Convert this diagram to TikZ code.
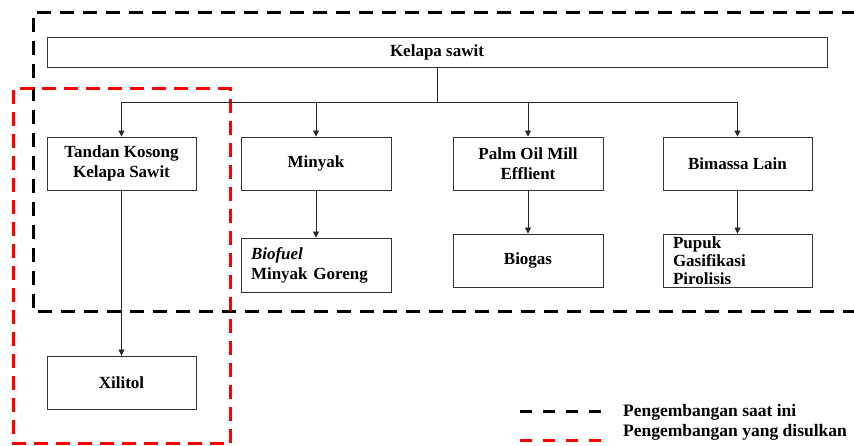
\documentclass[tikz,border=0pt]{standalone}
\usepackage{fontspec}
\setmainfont{Liberation Serif}
\usetikzlibrary{arrows.meta}
\begin{document}
\begin{tikzpicture}[x=1pt,y=-1pt,
  box/.style={draw=black!80,line width=0.9pt,font=\fontsize{17}{20}\selectfont\bfseries,align=center,minimum width=150,minimum height=53,inner sep=0pt},
  lbox/.style={box,align=left,text width=130,inner xsep=10pt},
  conn/.style={line width=0.8pt,black!85},
  arr/.style={conn,-{Triangle[length=6pt,width=6pt]}},
  blackdash/.style={line width=3pt,dash pattern=on 14pt off 9pt},
  reddash/.style={line width=3pt,red,dash pattern=on 14pt off 8pt},
  legtext/.style={font=\fontsize{17.5}{20}\selectfont\bfseries,anchor=west,inner sep=0pt}]
\useasboundingbox (0,0) rectangle (854,446);
% dashed regions
\draw[blackdash] (856,13) -- (33,13) -- (33,312) -- (856,312);
\draw[reddash] (230,443) -- (230,89) -- (13,89) -- (13,443) -- cycle;
% nodes
\node[box,minimum width=780,minimum height=30] (kel) at (437,52) {Kelapa sawit};
\node[box,minimum width=149] (tks) at (121.5,163.5) {Tandan Kosong\\Kelapa Sawit};
\node[box] (min) at (316,163.5) {Minyak};
\node[box] (pom) at (528,163.5) {Palm Oil Mill\\Efflient};
\node[box,minimum width=149] (bim) at (737.5,163.5) {Bimassa Lain};
\node[lbox,minimum height=54] (bio) at (316,265) {\textit{Biofuel}\\Minyak Goreng};
\node[box] (bgs) at (528,260.5) {Biogas};
\node[lbox,minimum width=149,text width=129,font=\fontsize{17}{18}\selectfont\bfseries] (pup) at (737.5,260.5) {Pupuk\\Gasifikasi\\Pirolisis};
\node[box,minimum width=149] (xil) at (121.5,382.5) {Xilitol};
% connectors
\coordinate (bm) at (437,102);
\coordinate (b1) at (121.5,102);
\coordinate (b2) at (316,102);
\coordinate (b3) at (528,102);
\coordinate (b4) at (737.5,102);
\draw[conn] (kel.south -| bm) -- (bm);
\draw[conn] (b1) -- (b4);
\draw[arr] (b1) -- (tks.north);
\draw[arr] (b2) -- (min.north);
\draw[arr] (b3) -- (pom.north);
\draw[arr] (b4) -- (bim.north);
\draw[arr] (min) -- (bio);
\draw[arr] (pom) -- (bgs);
\draw[arr] (bim) -- (pup);
\draw[arr] (tks) -- (xil);
% legend
\coordinate (l1a) at (520,411.5);
\coordinate (l1b) at (601,411.5);
\coordinate (l2a) at (520,440);
\coordinate (l2b) at (601,440);
\draw[line width=3pt,dash pattern=on 12pt off 11pt] (l1a) -- (l1b);
\draw[line width=3pt,red,dash pattern=on 12pt off 11pt] (l2a) -- (l2b);
\node[legtext] (t1) at (623,412) {Pengembangan saat ini};
\node[legtext] (t2) at (623,432) {Pengembangan yang disulkan};
\end{tikzpicture}
\end{document}
